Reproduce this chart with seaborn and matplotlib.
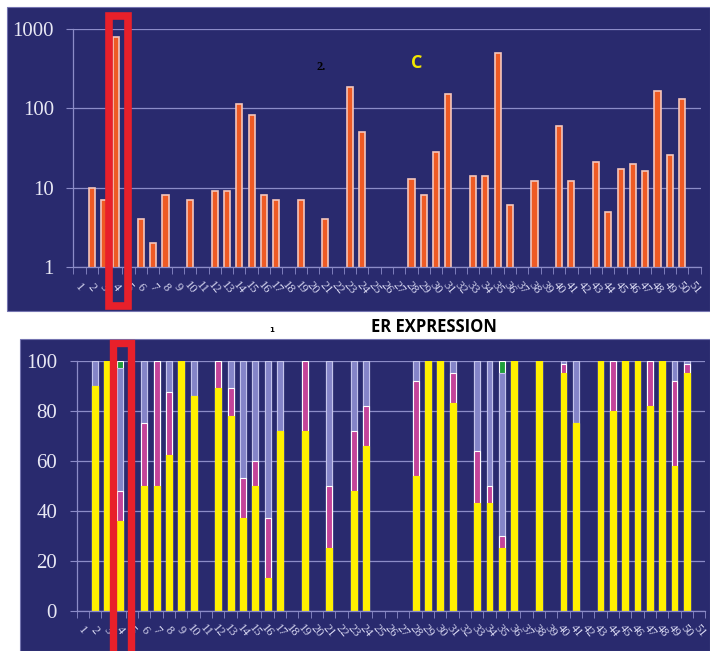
import seaborn as sns
import matplotlib.pyplot as plt
import matplotlib.patches as mpatches
import numpy as np
import pandas as pd

W, H = 710, 651
NAVY = '#292a6e'
GRID = '#8c8cc8'
TICKTXT = '#d4d4ee'

cases = [str(i) for i in range(1, 52)]

# top panel: relative expression (log scale), NaN = no bar
fold = [np.nan, 10, 7, 800, np.nan, 4, 2, 8, np.nan, 7,
        np.nan, 9, 9, 115, 83, 8, 7, np.nan, 7, np.nan,
        4, np.nan, 185, 50, np.nan, np.nan, np.nan, 13, 8, 28,
        150, np.nan, 14, 14, 500, 6, np.nan, 12, np.nan, 60,
        12, np.nan, 21, 5, 17, 20, 16, 163, 26, 131,
        np.nan]

# bottom panel: ER expression, percent of cells per category
er_cases = [2, 3, 4, 6, 7, 8, 9, 10, 12, 13, 14, 15, 16, 17, 19, 21, 23, 24, 28,
            29, 30, 31, 33, 34, 35, 36, 38, 40, 41, 43, 44, 45, 46, 47, 48, 49, 50]
er_yellow = [90, 100, 36, 50, 50, 62.5, 100, 86, 89, 78, 37, 50, 13, 72, 72, 25, 48, 66, 54,
             100, 100, 83, 43, 43, 25, 100, 100, 95, 75, 100, 80, 100, 100, 82, 100, 58, 95]
er_magenta = [0, 0, 12, 25, 50, 25, 0, 0, 11, 11, 16, 10, 24, 0, 28, 25, 24, 16, 38,
              0, 0, 12, 21, 7, 5, 0, 0, 3.5, 0, 0, 20, 0, 0, 18, 0, 34, 3.5]
er_lavender = [10, 0, 49, 25, 0, 12.5, 0, 14, 0, 11, 47, 40, 63, 28, 0, 50, 28, 18, 8,
               0, 0, 5, 36, 50, 65, 0, 0, 1.5, 25, 0, 0, 0, 0, 0, 0, 8, 1.5]
er_green = [0, 0, 3, 0, 0, 0, 0, 0, 0, 0, 0, 0, 0, 0, 0, 0, 0, 0, 0,
            0, 0, 0, 0, 0, 5, 0, 0, 0, 0, 0, 0, 0, 0, 0, 0, 0, 0]


def px_box(x0, y0, x1, y1):
    # pixel box (top-left origin) -> figure fraction [l, b, w, h]
    return [x0 / W, 1 - y1 / H, (x1 - x0) / W, (y1 - y0) / H]


def style_axis(ax, y_ticks, y_labels, xpad):
    ax.set_facecolor(NAVY)
    ax.set_xlim(-0.5, len(cases) - 0.5)
    ax.yaxis.grid(True, color=GRID, lw=0.9)
    ax.xaxis.grid(False)
    ax.set_axisbelow(True)
    for s in ['top', 'right']:
        ax.spines[s].set_visible(False)
    for s in ['left', 'bottom']:
        ax.spines[s].set_color(GRID)
        ax.spines[s].set_linewidth(0.9)
    ax.set_yticks(y_ticks)
    ax.set_yticklabels(y_labels)
    ax.yaxis.set_minor_locator(plt.NullLocator())
    ax.tick_params(axis='y', length=5, color=GRID, pad=9, labelsize=15,
                   labelcolor='#e8e8f4', labelfontfamily='Liberation Serif')
    ax.set_xticks(range(len(cases)))
    ax.set_xticklabels(cases, rotation=-50, ha='center', va='center',
                       rotation_mode='anchor')
    ax.set_xticks(np.arange(-0.5, len(cases)), minor=True)
    ax.tick_params(axis='x', which='major', length=0, pad=xpad, labelsize=9,
                   labelcolor=TICKTXT, labelfontfamily='Liberation Serif')
    ax.tick_params(axis='x', which='minor', length=5, color=GRID)
    ax.set_xlabel('')
    ax.set_ylabel('')


fig = plt.figure(figsize=(W / 100, H / 100), dpi=100)
fig.patch.set_facecolor('white')

# navy panel backgrounds
fig.patches.append(mpatches.Rectangle((7 / W, 1 - 311 / H), 703 / W, 304 / H,
                                      transform=fig.transFigure, facecolor=NAVY,
                                      edgecolor='#7474b0', lw=0.8, zorder=-10))
fig.patches.append(mpatches.Rectangle((20 / W, 0), 690 / W, 312 / H,
                                      transform=fig.transFigure, facecolor=NAVY,
                                      edgecolor='#7474b0', lw=0.8, zorder=-10))

# ---- top panel ----
ax1 = fig.add_axes(px_box(73.25, 29, 700.55, 267))
top_df = pd.DataFrame({'case': cases, 'value': fold})
sns.barplot(data=top_df, x='case', y='value', order=cases, color='#ee5a24',
            saturation=1, width=0.5, edgecolor='#f4c6bc', linewidth=1.2,
            errorbar=None, ax=ax1)
ax1.set_yscale('log')
ax1.set_ylim(1, 1000)
style_axis(ax1, [1, 10, 100, 1000], ['1', '10', '100', '1000'], xpad=15)

# ---- bottom panel ----
ax2 = fig.add_axes(px_box(76.5, 360.7, 705.3, 611))
er_df = pd.DataFrame({'case': [str(c) for c in er_cases],
                      'yellow': er_yellow, 'magenta': er_magenta,
                      'lavender': er_lavender, 'green': er_green})
er_df['c_magenta'] = er_df['yellow'] + er_df['magenta']
er_df['c_lavender'] = er_df['c_magenta'] + er_df['lavender']
er_df['c_green'] = er_df['c_lavender'] + er_df['green']

layers = [('c_green', '#1f9e3a', 'white'),
          ('c_lavender', '#8484c8', '#c4c4ec'),
          ('c_magenta', '#c4449a', 'white'),
          ('yellow', '#fff000', '#fff000')]
for col, fc, ec in layers:
    sns.barplot(data=er_df, x='case', y=col, order=cases, color=fc, saturation=1,
                width=0.48, edgecolor=ec, linewidth=0.8, errorbar=None, ax=ax2)
ax2.set_ylim(0, 100)
style_axis(ax2, [0, 20, 40, 60, 80, 100], ['0', '20', '40', '60', '80', '100'], xpad=14)

# annotations
fig.text(321 / W, 1 - 67 / H, '2.', fontsize=9, fontweight='bold', color='black',
         family='Liberation Serif', ha='center', va='center')
fig.text(417 / W, 1 - 63 / H, 'C', fontsize=13, fontweight='bold', color='#f2e600',
         family='Open Sans', ha='center', va='center')
fig.text(272 / W, 1 - 330 / H, '1', fontsize=5, fontweight='bold', color='black',
         ha='center', va='center')
fig.text(434 / W, 1 - 327 / H, 'ER EXPRESSION', fontsize=12, fontweight='bold',
         color='black', family='Open Sans', ha='center', va='center')

# red highlight boxes around case 4
fig.patches.append(mpatches.Rectangle((109.2 / W, 1 - 305.5 / H), 19 / W, 290 / H,
                                      transform=fig.transFigure, fill=False,
                                      edgecolor='#e8202a', lw=5.5, zorder=5))
fig.patches.append(mpatches.Rectangle((113 / W, 1 - 665 / H), 18.3 / W, 322 / H,
                                      transform=fig.transFigure, fill=False,
                                      edgecolor='#e8202a', lw=5.3, zorder=5))

fig.savefig('out.png', dpi=100, facecolor='white')
